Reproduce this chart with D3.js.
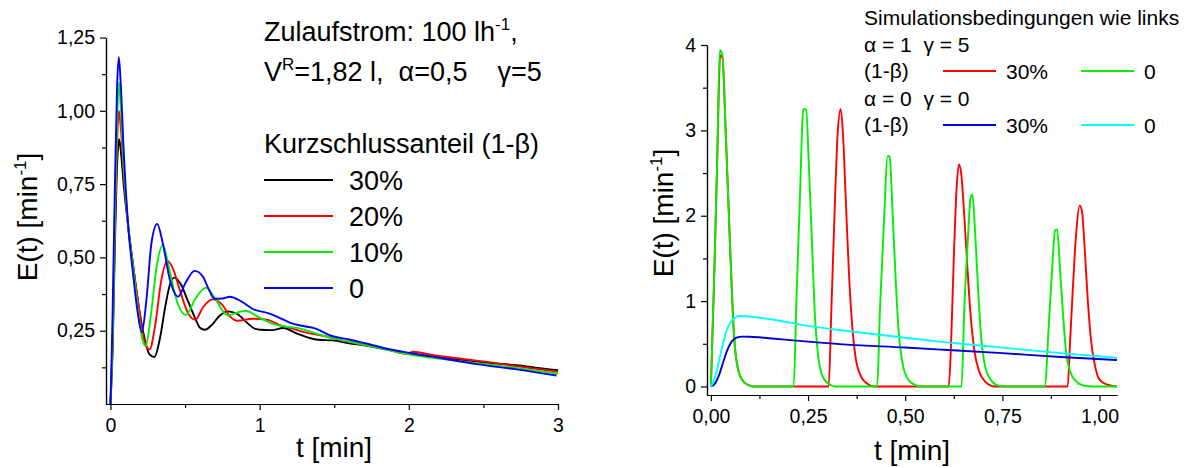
<!DOCTYPE html>
<html>
<head>
<meta charset="utf-8">
<script src="https://cdn.jsdelivr.net/npm/d3@7/dist/d3.min.js"></script>
<style>
  body { margin: 0; background: #fff; }
  svg { display: block; font-family: "Liberation Sans", Arial, sans-serif; }
  .tick text { font-size: 19.5px; fill: #000; font-family: "Liberation Sans", Arial, sans-serif; }
  .axis path, .axis line { stroke: #000; stroke-width: 1.2px; }
  .curve { fill: none; stroke-width: 1.9px; }
  .title { font-size: 28px; }
  .big { font-size: 27px; }
  .small { font-size: 21px; }
</style>
</head>
<body>
<svg id="chart" width="1195" height="468"></svg>
<script>
/* Left chart: Kurzschlussanteil (1-beta) series, [t, E] pairs */
const kurz30 = [[0,0],[0.015,0.2],[0.03,0.55],[0.045,0.82],[0.058,0.903],[0.07,0.86],[0.09,0.74],[0.12,0.6],[0.15,0.48],[0.19,0.33],[0.23,0.22],[0.26,0.17],[0.295,0.16],[0.33,0.22],[0.37,0.34],[0.4,0.41],[0.428,0.431],[0.47,0.41],[0.52,0.35],[0.57,0.29],[0.6,0.26],[0.633,0.253],[0.68,0.27],[0.73,0.3],[0.787,0.316],[0.85,0.307],[0.92,0.275],[0.97,0.256],[1.005,0.253],[1.08,0.252],[1.159,0.259],[1.25,0.24],[1.39,0.219],[1.49,0.217],[1.6,0.207],[1.7,0.2],[1.85,0.186],[1.98,0.174],[2.15,0.162],[2.34,0.152],[2.55,0.14],[2.72,0.132],[2.85,0.124],[3.0,0.115]];
const kurz20 = [[0,0],[0.015,0.22],[0.03,0.6],[0.045,0.9],[0.056,1.0],[0.068,0.95],[0.09,0.78],[0.12,0.6],[0.15,0.48],[0.19,0.33],[0.225,0.22],[0.262,0.186],[0.3,0.27],[0.34,0.42],[0.382,0.489],[0.42,0.46],[0.47,0.38],[0.52,0.31],[0.569,0.287],[0.62,0.33],[0.685,0.357],[0.75,0.338],[0.8,0.3],[0.851,0.284],[0.954,0.291],[1.056,0.287],[1.13,0.27],[1.21,0.259],[1.3,0.245],[1.44,0.231],[1.57,0.215],[1.7,0.202],[1.85,0.187],[1.98,0.171],[2.03,0.178],[2.15,0.168],[2.34,0.155],[2.55,0.142],[2.72,0.129],[2.85,0.12],[3.0,0.11]];
const kurz10 = [[0,0],[0.015,0.24],[0.03,0.65],[0.045,0.98],[0.056,1.097],[0.068,1.02],[0.09,0.8],[0.12,0.6],[0.15,0.47],[0.18,0.34],[0.21,0.23],[0.236,0.197],[0.27,0.3],[0.31,0.47],[0.351,0.542],[0.39,0.47],[0.44,0.36],[0.505,0.304],[0.57,0.36],[0.641,0.397],[0.7,0.36],[0.787,0.302],[0.84,0.31],[0.903,0.318],[1.005,0.293],[1.08,0.275],[1.159,0.265],[1.26,0.259],[1.35,0.245],[1.44,0.231],[1.57,0.216],[1.7,0.202],[1.85,0.186],[1.98,0.171],[2.15,0.158],[2.34,0.146],[2.55,0.134],[2.72,0.123],[2.85,0.114],[3.0,0.104]];
const kurz0 = [[0,0],[0.012,0.25],[0.028,0.7],[0.044,1.08],[0.056,1.183],[0.068,1.1],[0.09,0.85],[0.12,0.6],[0.15,0.45],[0.18,0.32],[0.21,0.245],[0.24,0.35],[0.275,0.55],[0.313,0.614],[0.35,0.55],[0.4,0.42],[0.454,0.366],[0.5,0.41],[0.564,0.454],[0.62,0.434],[0.66,0.39],[0.697,0.359],[0.75,0.36],[0.8,0.366],[0.877,0.35],[0.954,0.324],[1.056,0.31],[1.13,0.295],[1.21,0.276],[1.3,0.265],[1.364,0.259],[1.49,0.231],[1.6,0.22],[1.7,0.208],[1.877,0.186],[2.005,0.174],[2.21,0.157],[2.467,0.135],[2.72,0.118],[2.99,0.097]];

/* Right chart: alpha=1 gamma=5 (pulses) and alpha=0 gamma=0 (mixed) */
const pulse30 = [[0,0],[0.008,1.2],[0.016,2.6],[0.024,3.88],[0.03,3.85],[0.038,3.0],[0.048,1.8],[0.056,0.9],[0.062,0.45],[0.07,0.2],[0.08,0.08],[0.095,0.02],[0.11,0],[0.303,0],[0.31,0.9],[0.318,2.0],[0.326,2.95],[0.334,3.25],[0.34,2.95],[0.347,2.2],[0.355,1.35],[0.363,0.75],[0.372,0.35],[0.385,0.13],[0.4,0.04],[0.42,0],[0.612,0],[0.618,0.5],[0.625,1.5],[0.632,2.3],[0.638,2.6],[0.644,2.5],[0.652,2.0],[0.66,1.4],[0.668,0.85],[0.678,0.42],[0.69,0.18],[0.705,0.06],[0.73,0],[0.918,0],[0.924,0.5],[0.932,1.2],[0.94,1.8],[0.949,2.12],[0.955,2.05],[0.962,1.6],[0.97,1.0],[0.978,0.55],[0.988,0.25],[1.0,0.08],[1.02,0.02],[1.045,0]];
const pulse0 = [[0,0],[0.008,1.2],[0.016,2.6],[0.023,3.94],[0.029,3.9],[0.038,3.0],[0.048,1.8],[0.056,0.9],[0.062,0.45],[0.07,0.2],[0.08,0.08],[0.095,0.02],[0.11,0],[0.213,0],[0.22,1.0],[0.229,2.2],[0.238,3.25],[0.245,3.24],[0.252,2.6],[0.26,1.7],[0.268,0.8],[0.275,0.4],[0.285,0.15],[0.3,0.04],[0.32,0],[0.428,0],[0.435,0.9],[0.445,1.9],[0.455,2.7],[0.46,2.69],[0.467,2.1],[0.475,1.3],[0.483,0.65],[0.492,0.3],[0.505,0.1],[0.52,0.03],[0.54,0],[0.645,0],[0.652,0.9],[0.661,1.7],[0.668,2.2],[0.673,2.25],[0.68,1.8],[0.688,1.1],[0.696,0.55],[0.705,0.25],[0.72,0.08],[0.74,0.01],[0.76,0],[0.86,0],[0.868,0.6],[0.877,1.3],[0.886,1.83],[0.891,1.84],[0.898,1.4],[0.906,0.85],[0.914,0.4],[0.924,0.18],[0.94,0.06],[0.96,0.01],[0.98,0],[1.045,0]];
const mix30 = [[0,0],[0.01,0.03],[0.02,0.12],[0.03,0.26],[0.04,0.4],[0.05,0.5],[0.06,0.555],[0.07,0.578],[0.08,0.584],[0.1,0.582],[0.15,0.565],[0.25,0.525],[0.35,0.49],[0.5,0.456],[0.6,0.43],[0.75,0.39],[0.9,0.345],[1.045,0.31]];
const mix0 = [[0,0],[0.01,0.1],[0.02,0.28],[0.03,0.48],[0.04,0.65],[0.05,0.75],[0.06,0.8],[0.075,0.825],[0.09,0.822],[0.15,0.79],[0.25,0.71],[0.35,0.65],[0.5,0.57],[0.6,0.52],[0.75,0.455],[0.9,0.39],[1.045,0.335]];

/* Tick values */
const leftXTicks = [0, 1, 2, 3];
const leftXMinor = [0.5, 1.5, 2.5];
const leftYTicks = [0.25, 0.5, 0.75, 1.0, 1.25];
const leftYMinor = [0.125, 0.375, 0.625, 0.875, 1.125];
const rightXTicks = [0, 0.25, 0.5, 0.75, 1.0];
const rightXMinor = [0.125, 0.375, 0.625, 0.875];
const rightYTicks = [0, 1, 2, 3, 4];
const rightYMinor = [0.5, 1.5, 2.5, 3.5];

const leftSeries = [
  { label: "30%", data: kurz30, color: "#000000" },
  { label: "20%", data: kurz20, color: "#ff0000" },
  { label: "10%", data: kurz10, color: "#00f000" },
  { label: "0", data: kurz0, color: "#0000ff" }
];
const rightSeries = [
  { data: pulse30, color: "#ff0000" },
  { data: pulse0, color: "#00f000" },
  { data: mix30, color: "#0000dd" },
  { data: mix0, color: "#00ffff" }
];

const de = d3.formatLocale({ decimal: ",", thousands: ".", grouping: [3], currency: ["", " €"] });
const f2 = de.format(".2f");

const svg = d3.select("#chart");

/* Scales */
const xL = d3.scaleLinear().domain([-0.03, 3]).range([106, 558]);
const yL = d3.scaleLinear().domain([0, 1.25]).range([404, 37.5]);
const xR = d3.scaleLinear().domain([-0.01, 1.045]).range([707, 1117]);
const yR = d3.scaleLinear().domain([-0.1, 4]).range([395, 45]);

function drawAxes(x, y, xt, xm, yt, ym, xfmt, yfmt) {
  const [y0] = y.range();
  const [x0] = x.range();
  svg.append("g").attr("class", "axis").attr("transform", `translate(0,${y0})`)
    .call(d3.axisBottom(x).tickValues(xt).tickFormat(xfmt).tickSize(6).tickSizeOuter(0).tickPadding(8));
  svg.append("g").attr("class", "axis").attr("transform", `translate(0,${y0})`)
    .call(d3.axisBottom(x).tickValues(xm).tickFormat("").tickSize(4).tickSizeOuter(0));
  svg.append("g").attr("class", "axis").attr("transform", `translate(${x0},0)`)
    .call(d3.axisLeft(y).tickValues(yt).tickFormat(yfmt).tickSize(6).tickSizeOuter(0).tickPadding(5));
  svg.append("g").attr("class", "axis").attr("transform", `translate(${x0},0)`)
    .call(d3.axisLeft(y).tickValues(ym).tickFormat("").tickSize(4).tickSizeOuter(0));
}

drawAxes(xL, yL, leftXTicks, leftXMinor, leftYTicks, leftYMinor, d3.format("d"), f2);
drawAxes(xR, yR, rightXTicks, rightXMinor, rightYTicks, rightYMinor, f2, d3.format("d"));

/* Clip paths */
const defs = svg.append("defs");
defs.append("clipPath").attr("id", "clipL").append("rect")
  .attr("x", xL.range()[0]).attr("y", yL.range()[1] - 5)
  .attr("width", xL.range()[1] - xL.range()[0]).attr("height", yL.range()[0] - yL.range()[1] + 5);
defs.append("clipPath").attr("id", "clipR").append("rect")
  .attr("x", xR.range()[0]).attr("y", yR.range()[1] - 5)
  .attr("width", xR.range()[1] - xR.range()[0]).attr("height", yR.range()[0] - yR.range()[1] + 5);

const lineL = d3.line().x(d => xL(d[0])).y(d => yL(d[1])).curve(d3.curveMonotoneX);
const lineR = d3.line().x(d => xR(d[0])).y(d => yR(d[1])).curve(d3.curveMonotoneX);

svg.append("g").attr("clip-path", "url(#clipL)")
  .selectAll("path").data(leftSeries).join("path")
  .attr("class", "curve").attr("stroke", d => d.color).attr("d", d => lineL(d.data));

svg.append("g").attr("clip-path", "url(#clipR)")
  .selectAll("path").data(rightSeries).join("path")
  .attr("class", "curve").attr("stroke", d => d.color).attr("d", d => lineR(d.data));

/* Axis titles */
function yTitle(cx, cy) {
  const t = svg.append("text").attr("class", "title")
    .attr("transform", `translate(${cx},${cy}) rotate(-90)`).attr("text-anchor", "middle");
  t.append("tspan").text("E(t) [min");
  t.append("tspan").attr("font-size", 17).attr("dy", -11).text("-1");
  t.append("tspan").attr("dy", 11).text("]");
}
yTitle(37, 217);
yTitle(673, 213);
svg.append("text").attr("class", "title").attr("x", 334).attr("y", 457).attr("text-anchor", "middle").text("t [min]");
svg.append("text").attr("class", "title").attr("x", 912).attr("y", 460).attr("text-anchor", "middle").text("t [min]");

/* Left annotation and legend */
const l1 = svg.append("text").attr("class", "big").attr("x", 264).attr("y", 41);
l1.append("tspan").text("Zulaufstrom: 100 lh");
l1.append("tspan").attr("font-size", 17).attr("dy", -11).text("-1");
l1.append("tspan").attr("dy", 11).text(",");
const l2 = svg.append("text").attr("class", "big").attr("x", 264).attr("y", 81).style("white-space", "pre");
l2.append("tspan").text("V");
l2.append("tspan").attr("font-size", 17).attr("dy", -11).text("R");
l2.append("tspan").attr("dy", 11).text("=1,82 l,  \u03b1=0,5    \u03b3=5");
svg.append("text").attr("class", "big").attr("x", 264).attr("y", 153).text("Kurzschlussanteil (1-\u03b2)");

const legL = svg.append("g").selectAll("g").data(leftSeries).join("g")
  .attr("transform", (d, i) => `translate(264,${180 + i * 36})`);
legL.append("line").attr("x1", 0).attr("x2", 69).attr("stroke", d => d.color).attr("stroke-width", 1.9);
legL.append("text").attr("class", "big").attr("x", 85).attr("dy", "0.36em").text(d => d.label);

/* Right legend */
const rl = [
  { text: "Simulationsbedingungen wie links", y: 25 },
  { text: "\u03b1 = 1  \u03b3 = 5", y: 52 },
  { text: "(1-\u03b2)", y: 78 },
  { text: "\u03b1 = 0  \u03b3 = 0", y: 106 },
  { text: "(1-\u03b2)", y: 132 }
];
svg.append("g").selectAll("text").data(rl).join("text")
  .attr("class", "small").attr("x", 864).attr("y", d => d.y)
  .style("white-space", "pre").text(d => d.text);

const legR = [
  { color: "#ff0000", label: "30%", x: 943, y: 71 },
  { color: "#00f000", label: "0", x: 1081, y: 71 },
  { color: "#0000dd", label: "30%", x: 943, y: 125 },
  { color: "#00ffff", label: "0", x: 1081, y: 125 }
];
const lr = svg.append("g").selectAll("g").data(legR).join("g")
  .attr("transform", d => `translate(${d.x},${d.y})`);
lr.append("line").attr("x1", 0).attr("x2", 53).attr("stroke", d => d.color).attr("stroke-width", 1.9);
lr.append("text").attr("class", "small").attr("x", 63).attr("dy", "0.36em").text(d => d.label);
</script>
</body>
</html>
